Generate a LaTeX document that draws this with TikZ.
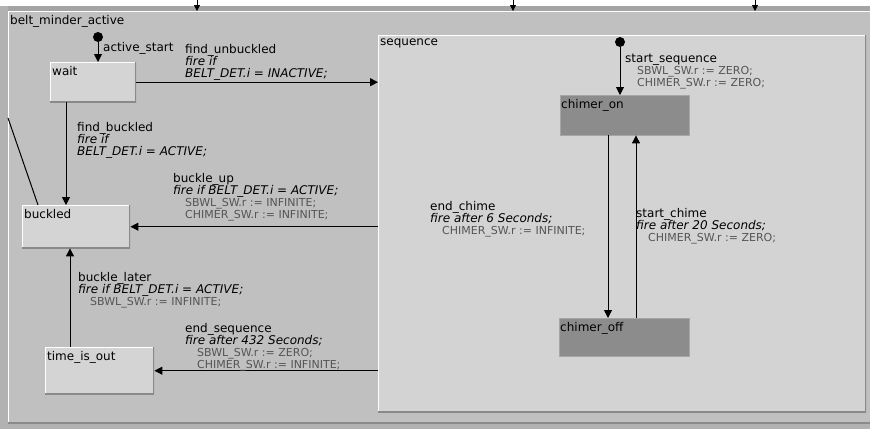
\documentclass[tikz,border=0pt]{standalone}
\usepackage{fontspec}
\setmainfont{DejaVu Sans}
\usetikzlibrary{arrows.meta}

\definecolor{framegrey}{HTML}{B2B2B2}
\definecolor{bandgrey}{HTML}{A4A4A4}
\definecolor{mindergrey}{HTML}{C0C0C0}
\definecolor{seqgrey}{HTML}{D3D3D3}
\definecolor{stategrey}{HTML}{D4D4D4}
\definecolor{chimergrey}{HTML}{8C8C8C}
\definecolor{edgedark}{HTML}{8A8A8A}
\definecolor{actgrey}{HTML}{555555}

\newcommand{\fireline}[1]{{\itshape #1}}
\newcommand{\actline}[1]{\hspace*{12pt}{\fontsize{11}{11}\selectfont\color{actgrey}#1}}

\tikzset{
  trans/.style={-{Triangle[width=8pt,length=8pt]},line width=1pt},
  topin/.style={-{Triangle[width=6pt,length=6pt]},line width=0.8pt},
  bevel/.style={path picture={
      \draw[white,line width=2pt] (path picture bounding box.south west)
        |- (path picture bounding box.north east);
      \draw[edgedark,line width=2pt] (path picture bounding box.south west)
        -| (path picture bounding box.north east);}},
  statebox/.style={anchor=north west,inner sep=0pt,fill=stategrey,bevel,
    label={[anchor=north west,inner xsep=2pt,inner ysep=4pt,font=\fontsize{12}{12}\selectfont]north west:#1}},
  chimerbox/.style={anchor=north west,inner sep=0pt,fill=chimergrey,draw=gray!70,
    label={[anchor=north west,inner xsep=1pt,inner ysep=4pt,font=\fontsize{12}{12}\selectfont]north west:#1}},
  translbl/.style={anchor=north west,inner sep=0pt,align=left,font=\fontsize{12}{12}\selectfont},
  initdot/.style={circle,fill=black,inner sep=0pt,minimum size=10pt}
}

\begin{document}
\begin{tikzpicture}[x=1pt,y=-1pt]
	\useasboundingbox (0,0) rectangle (870,429);
	\fill[framegrey] (0,0) rectangle (870,429);
	\fill[white] (0,0) rectangle (870,6);
	\fill[bandgrey] (8,6) rectangle (870,11);

	% outer state and the sequence superstate
	\node[statebox=belt\_minder\_active,fill=mindergrey,minimum width=880pt,minimum height=412pt] (minder) at (8,11) {};
	\node[statebox=sequence,fill=seqgrey,minimum width=488pt,minimum height=377pt] (seq) at (378,35) {};

	% states
	\node[statebox=wait,minimum width=86pt,minimum height=40pt] (wait) at (50,62) {};
	\node[statebox=buckled,minimum width=108pt,minimum height=43pt] (buckled) at (22,205) {};
	\node[statebox=time\_is\_out,minimum width=109pt,minimum height=47pt] (timeout) at (45,347) {};
	\node[chimerbox=chimer\_on,minimum width=129pt,minimum height=40pt] (chimeron) at (560,95) {};
	\node[chimerbox=chimer\_off,minimum width=130pt,minimum height=38pt] (chimeroff) at (559,318) {};

	% initial points
	\node[initdot] (actdot) at (98,37) {};
	\node[initdot] (seqdot) at (620,42) {};

	% transitions entering from outside
	\coordinate (topa) at (197,0);
	\coordinate (topb) at (513,0);
	\coordinate (topc) at (755,0);
	\coordinate (topae) at (197,11);
	\coordinate (topbe) at (513,11);
	\coordinate (topce) at (755,11);
	\draw[topin] (topa) -- (topae);
	\draw[topin] (topb) -- (topbe);
	\draw[topin] (topc) -- (topce);
	\coordinate (leftin) at (8,118);
	\draw[line width=1pt] (leftin) -- ([xshift=16pt]buckled.north west);

	% transitions
	\draw[trans] (actdot) -- (actdot |- wait.north);
	\draw[trans] (wait.east) -- (wait.east -| seq.west);
	\draw[trans] ([xshift=16pt]wait.south west) -- ([xshift=16pt]wait.south west |- buckled.north);
	\draw[trans] (buckled.east -| seq.west) -- (buckled.east);
	\draw[trans] ([xshift=25pt]timeout.north west) -- ([xshift=25pt]timeout.north west |- buckled.south);
	\draw[trans] (timeout.east -| seq.west) -- (timeout.east);
	\draw[trans] (seqdot) -- (seqdot |- chimeron.north);
	\draw[trans] ([xshift=48pt]chimeron.south west) -- ([xshift=48pt]chimeron.south west |- chimeroff.north);
	\draw[trans] ([xshift=77pt]chimeroff.north west) -- ([xshift=77pt]chimeroff.north west |- chimeron.south);

	% transition labels
	\node[translbl] (lactive) at (103,42) {active\_start};
	\node[translbl] (lunbuckled) at (185,44) {find\_unbuckled\\ \fireline{fire if}\\ \fireline{BELT\_DET.i = INACTIVE;}};
	\node[translbl] (lbuckled) at (77,122) {find\_buckled\\ \fireline{fire if}\\ \fireline{BELT\_DET.i = ACTIVE;}};
	\node[translbl] (lbuckleup) at (173,173) {buckle\_up\\ \fireline{fire if BELT\_DET.i = ACTIVE;}\\ \actline{SBWL\_SW.r := INFINITE;}\\ \actline{CHIMER\_SW.r := INFINITE;}};
	\node[translbl] (llater) at (78,272) {buckle\_later\\ \fireline{fire if BELT\_DET.i = ACTIVE;}\\ \actline{SBWL\_SW.r := INFINITE;}};
	\node[translbl] (lendseq) at (185,323) {end\_sequence\\ \fireline{fire after 432 Seconds;}\\ \actline{SBWL\_SW.r := ZERO;}\\ \actline{CHIMER\_SW.r := INFINITE;}};
	\node[translbl] (lstartseq) at (625,54) {start\_sequence\\ \actline{SBWL\_SW.r := ZERO;}\\ \actline{CHIMER\_SW.r := ZERO;}};
	\node[translbl] (lendchime) at (430,201) {end\_chime\\ \fireline{fire after 6 Seconds;}\\ \actline{CHIMER\_SW.r := INFINITE;}};
	\node[translbl] (lstartchime) at (636,208) {start\_chime\\ \fireline{fire after 20 Seconds;}\\ \actline{CHIMER\_SW.r := ZERO;}};
\end{tikzpicture}
\end{document}
